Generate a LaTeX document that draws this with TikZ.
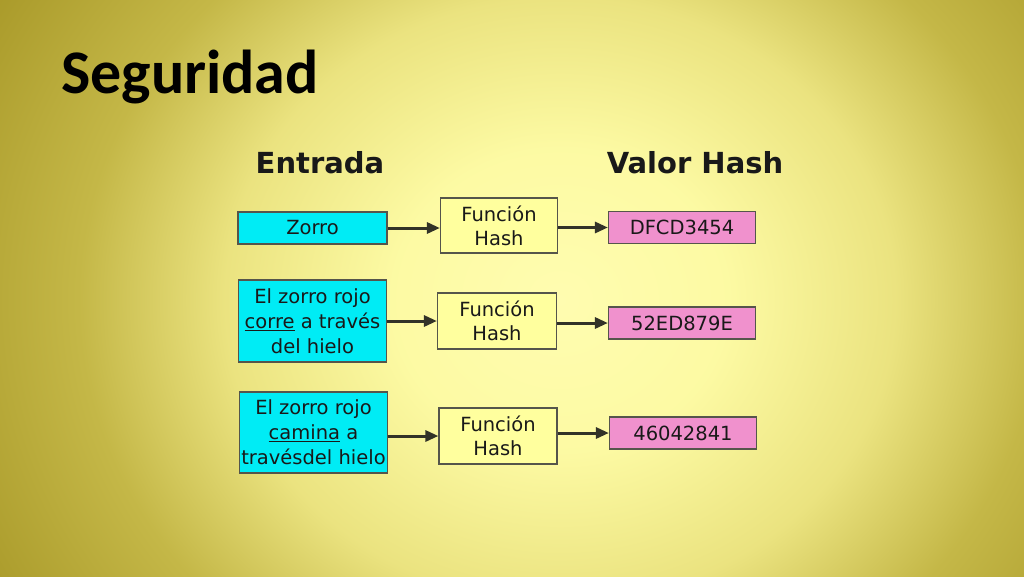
\documentclass[tikz,border=0pt]{standalone}
\usepackage{fontspec}
\setmainfont{DejaVu Sans}
\newfontfamily\titlefont{Carlito}
\usetikzlibrary{arrows.meta}
\definecolor{cyanc}{RGB}{0,236,245}
\definecolor{yelc}{RGB}{255,255,158}
\definecolor{pinkc}{RGB}{240,145,205}
\definecolor{bordc}{RGB}{85,85,75}
\definecolor{txtc}{RGB}{25,25,25}
\definecolor{arrc}{RGB}{50,50,40}
\pgfdeclareradialshading{slidebg}{\pgfpoint{0bp}{0bp}}{%
  rgb(0bp)=(1,0.99,0.69);
  rgb(7bp)=(0.99,0.98,0.64);
  rgb(14bp)=(0.92,0.89,0.50);
  rgb(20bp)=(0.77,0.72,0.28);
  rgb(27bp)=(0.67,0.61,0.17);
  rgb(40bp)=(0.62,0.56,0.13)}
\tikzset{
  box/.style={draw=bordc, line width=1.2pt, text=txtc, align=center, inner sep=0pt,
    font=\fontsize{19.5}{25}\selectfont},
  inbox/.style={box, fill=cyanc},
  hashbox/.style={box, fill=yelc, font=\fontsize{19.5}{24}\selectfont},
  outbox/.style={box, fill=pinkc},
  arr/.style={draw=arrc, line width=3pt, -{Triangle[length=13pt,width=11pt]}},
  head/.style={inner sep=0pt, anchor=base, text=txtc, font=\bfseries\fontsize{29}{34}\selectfont},
}
\begin{document}
\begin{tikzpicture}[x=1pt,y=-1pt]
\useasboundingbox (0,0) rectangle (1024,576);
\begin{scope}
\clip (0,0) rectangle (1024,576);
\fill[black!40!yellow!70!white] (0,0) rectangle (1024,576);
\shade[shading=slidebg] (-40,-240) rectangle (1160,840);
\end{scope}

\node[inner sep=0pt, anchor=base west, font=\titlefont\bfseries\fontsize{62}{70}\selectfont] (title) at (61,93) {Seguridad};

\node[head] (h1) at (320,173) {Entrada};
\node[head] (h2) at (695,173) {Valor Hash};

\node[inbox, minimum width=149pt, minimum height=32pt] (i1) at (312.5,228) {Zorro};
\node[inbox, minimum width=148pt, minimum height=82pt] (i2) at (312.5,321) {El zorro rojo\\\underline{corre} a través\\del hielo};
\node[inbox, minimum width=148pt, minimum height=81pt] (i3) at (313.5,432.5) {El zorro rojo\\\underline{camina} a\\travésdel hielo};

\node[hashbox, minimum width=117pt, minimum height=55pt] (f1) at (499,225.5) {Función\\Hash};
\node[hashbox, minimum width=119pt, minimum height=56pt] (f2) at (497,321) {Función\\Hash};
\node[hashbox, minimum width=118pt, minimum height=56pt] (f3) at (498,436) {Función\\Hash};

\node[outbox, minimum width=147pt, minimum height=31.5pt] (o1) at (682,227.5) {DFCD3454};
\node[outbox, minimum width=147pt, minimum height=32pt] (o2) at (682,323) {52ED879E};
\node[outbox, minimum width=147pt, minimum height=32pt] (o3) at (683,433) {46042841};

\draw[arr] (i1.east) -- (i1.east -| f1.west);
\draw[arr] (o1.west -| f1.east) -- (o1.west);
\draw[arr] (i2.east) -- (i2.east -| f2.west);
\draw[arr] (o2.west -| f2.east) -- (o2.west);
\draw[arr] (f3.west -| i3.east) -- (f3.west);
\draw[arr] (o3.west -| f3.east) -- (o3.west);
\end{tikzpicture}
\end{document}
